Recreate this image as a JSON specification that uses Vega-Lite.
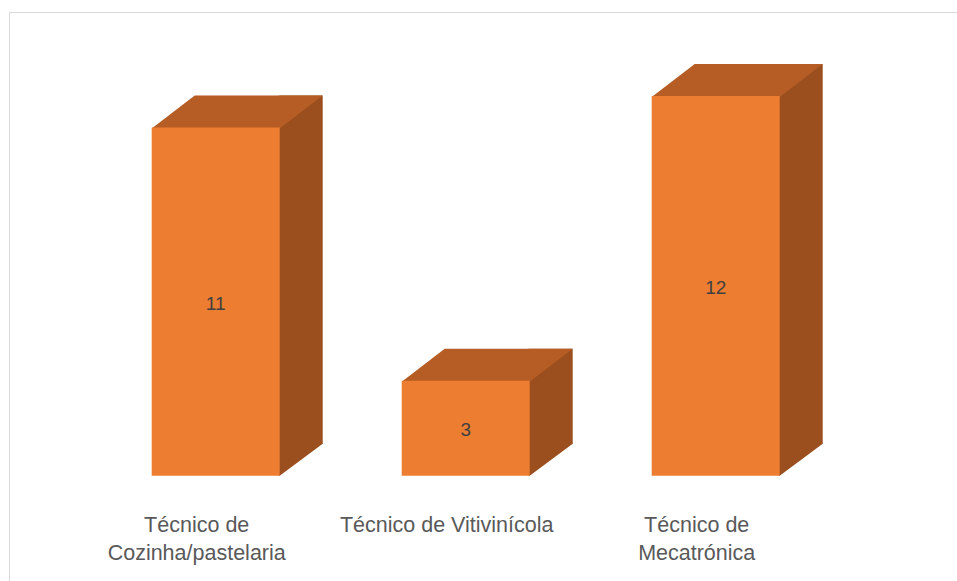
{
  "$schema": "https://vega.github.io/schema/vega-lite/v6.json",
  "width": 951,
  "height": 572,
  "autosize": "none",
  "padding": {"left": 9, "top": 12, "right": -3, "bottom": -3},
  "background": "white",
  "config": {"view": {"stroke": "#D9D9D9", "strokeWidth": 1}},
  "data": {
    "values": [
      {"course": "Técnico de\nCozinha/pastelaria", "value": 11},
      {"course": "Técnico de Vitivinícola", "value": 3},
      {"course": "Técnico de\nMecatrónica", "value": 12}
    ]
  },
  "encoding": {
    "x": {
      "field": "course",
      "type": "nominal",
      "sort": null,
      "scale": {"paddingInner": 0.488, "paddingOuter": 0.646, "align": 0.4418},
      "axis": null
    }
  },
  "layer": [
    {
      "layer": [
        {
          "mark": {"type": "bar", "width": 44, "xOffset": 85, "yOffset": -32, "y2Offset": -32, "color": "#9B4F1E"},
          "encoding": {
            "y": {"field": "value", "type": "quantitative", "scale": {"domain": [-3.422, 14.651], "nice": false, "zero": false}, "axis": null},
            "y2": {"datum": 0}
          }
        },
        {
          "mark": {"type": "point", "shape": "M63,-33L107,-33L107,-32L64,0L63,0Z", "size": 4, "filled": true, "opacity": 1, "strokeWidth": 0, "color": "#9B4F1E"},
          "encoding": {
            "y": {"datum": 0, "type": "quantitative", "scale": {"domain": [-3.422, 14.651], "nice": false, "zero": false}, "axis": null}
          }
        },
        {
          "mark": {"type": "point", "shape": "M-64,1L64,1L107,-32L-21,-32Z", "size": 4, "filled": true, "opacity": 1, "strokeWidth": 0, "color": "#B55D24"},
          "encoding": {
            "y": {"field": "value", "type": "quantitative", "scale": {"domain": [-3.422, 14.651], "nice": false, "zero": false}, "axis": null}
          }
        },
        {
          "mark": {"type": "bar", "color": "#ED7D31"},
          "encoding": {
            "y": {"field": "value", "type": "quantitative", "scale": {"domain": [-3.422, 14.651], "nice": false, "zero": false}, "axis": null},
            "y2": {"datum": 0}
          }
        },
        {
          "mark": {"type": "text", "lineBreak": "\n", "lineHeight": 28, "align": "center", "baseline": "alphabetic", "dx": -19, "font": "Liberation Sans", "fontSize": 21.5, "color": "#595959"},
          "encoding": {
            "y": {"datum": -1.779, "type": "quantitative", "scale": {"domain": [-3.422, 14.651], "nice": false, "zero": false}, "axis": null},
            "text": {"field": "course"}
          }
        }
      ]
    },
    {
      "mark": {"type": "text", "align": "center", "baseline": "middle", "dy": 2, "font": "Liberation Sans", "fontSize": 19, "color": "#404040"},
      "encoding": {
        "y": {"field": "value", "type": "quantitative", "scale": {"domain": [-6.844, 29.302], "nice": false, "zero": false}, "axis": null},
        "text": {"field": "value", "type": "quantitative"}
      }
    }
  ],
  "resolve": {"scale": {"y": "independent"}}
}
